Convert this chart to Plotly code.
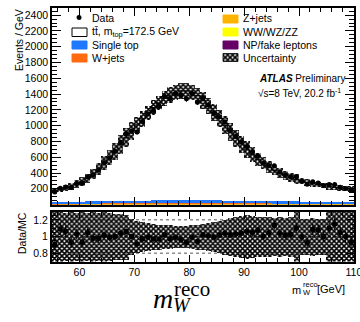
import numpy as np
import plotly.graph_objects as go

# ---- binning: 1 GeV bins from 55 to 110 GeV ----
bin_edges = list(range(55, 111))

# ---- expected events / GeV ----
ttbar = [140, 155, 174, 195, 222, 253, 295, 344, 408, 477, 551, 630, 714, 798, 882, 961,
         1035, 1109, 1178, 1237, 1291, 1335, 1364, 1384, 1384, 1364, 1325, 1266, 1197, 1118,
         1039, 955, 871, 792, 718, 649, 586, 527, 478, 431, 392, 359, 327, 301, 278, 259,
         242, 229, 216, 205, 195, 186, 178, 171, 165]
single_top = [20, 20, 21, 21, 22, 22, 23, 23, 24, 24, 25, 25, 26, 26, 27, 27, 28, 28, 29, 29,
              30, 30, 31, 31, 31, 31, 31, 30, 30, 29, 29, 28, 28, 27, 27, 26, 26, 25, 25, 24,
              24, 23, 23, 25, 24, 23, 22, 21, 21, 20, 20, 19, 18, 17, 16]
w_jets = [8, 8, 8, 9, 9, 9, 10, 10, 10, 11, 11, 11, 12, 12, 12, 13, 13, 13, 13, 14, 14, 14,
          14, 14, 14, 14, 14, 14, 14, 13, 13, 13, 12, 12, 12, 11, 11, 11, 10, 10, 10, 9, 9,
          9, 9, 8, 8, 8, 8, 8, 7, 7, 7, 7, 7]
z_jets = [2, 2, 2, 2, 2, 2, 2, 2, 3, 3, 3, 3, 3, 3, 3, 3, 3, 3, 3, 3, 3, 3, 3, 3, 3, 3, 3,
          3, 3, 3, 3, 3, 3, 3, 3, 3, 3, 3, 3, 3, 2, 2, 2, 2, 2, 2, 2, 2, 2, 2, 2, 2, 2, 2, 2]
diboson = [1] * 55
np_fake = [4, 4, 4, 4, 4, 5, 5, 5, 5, 5, 5, 5, 5, 6, 6, 6, 6, 6, 6, 6, 6, 6, 6, 6, 6, 6, 6,
           6, 6, 6, 6, 6, 6, 6, 6, 6, 6, 6, 6, 6, 5, 5, 5, 5, 5, 5, 5, 5, 5, 5, 5, 5, 5, 5, 5]

# ---- observed events / GeV ----
data = [158, 207, 223, 216, 268, 272, 352, 377, 441, 530, 589, 675, 790, 896, 930, 919,
        1052, 1148, 1193, 1251, 1372, 1348, 1406, 1382, 1339, 1406, 1297, 1346, 1262, 1158,
        1112, 1045, 938, 865, 796, 737, 662, 616, 525, 496, 492, 414, 372, 352, 352, 297,
        259, 288, 273, 241, 253, 253, 221, 203, 182]

# ---- relative systematic uncertainty (half width) ----
unc_ratio = [0.30, 0.30, 0.29, 0.30, 0.29, 0.30, 0.29, 0.30, 0.29, 0.30, 0.29, 0.28, 0.28,
             0.27, 0.22, 0.19, 0.18, 0.17, 0.16, 0.15, 0.14, 0.14, 0.13, 0.13, 0.13, 0.14,
             0.15, 0.16, 0.17, 0.18, 0.19, 0.21, 0.23, 0.24, 0.25, 0.26, 0.25, 0.24, 0.24,
             0.24, 0.23, 0.24, 0.23, 0.24, 0.35, 0.22, 0.22, 0.23, 0.22, 0.22, 0.30, 0.30,
             0.30, 0.30, 0.30]
unc_main = [0.18, 0.18, 0.18, 0.18, 0.18, 0.18, 0.17, 0.17, 0.17, 0.17, 0.16, 0.16, 0.15,
            0.14, 0.12, 0.10, 0.09, 0.08, 0.08, 0.07, 0.07, 0.07, 0.07, 0.07, 0.07, 0.07,
            0.07, 0.08, 0.08, 0.09, 0.10, 0.11, 0.12, 0.13, 0.14, 0.15, 0.15, 0.15, 0.15,
            0.15, 0.15, 0.15, 0.15, 0.15, 0.20, 0.14, 0.14, 0.14, 0.14, 0.14, 0.18, 0.18,
            0.18, 0.18, 0.18]

ratio_ref_lines = [0.8, 1.0, 1.2]

# ---- colours ----
C_STOP = "#1f78ff"
C_WJ = "#ff6a10"
C_ZJ = "#ffb400"
C_VV = "#ffff00"
C_FAKE = "#660066"

W, H = 360, 322
FONT = "Liberation Sans"

# panel geometry in pixels
X_LEFT, X_RIGHT = 52, 354
MAIN_TOP, MAIN_BOT = 8, 204.5
RAT_TOP, RAT_BOT = 211.5, 261.5
X_RANGE = [55, 110.02]
Y_RANGE = [1, 2490]

centers = np.array(bin_edges[:-1]) + 0.5
stack = [("NP/fake leptons", np_fake, C_FAKE), ("WW/WZ/ZZ", diboson, C_VV),
         ("Z+jets", z_jets, C_ZJ), ("W+jets", w_jets, C_WJ), ("Single top", single_top, C_STOP)]

bkg_total = np.zeros(len(centers))
fig = go.Figure()

for name, vals, col in stack:
    v = np.array(vals, dtype=float)
    fig.add_trace(go.Bar(x=centers, y=v, base=bkg_total.copy(), width=1.0,
                         marker=dict(color=col, line=dict(width=0)),
                         xaxis="x", yaxis="y", showlegend=False))
    bkg_total = bkg_total + v

tt = np.array(ttbar, dtype=float)
mc_total = bkg_total + tt
fig.add_trace(go.Bar(x=centers, y=tt, base=bkg_total, width=1.0,
                     marker=dict(color="white", line=dict(width=0)),
                     xaxis="x", yaxis="y", showlegend=False))

# ttbar outline as a step line
step_x = [bin_edges[0]]
step_y = [mc_total[0]]
for i in range(len(centers)):
    step_x += [bin_edges[i], bin_edges[i + 1]]
    step_y += [mc_total[i], mc_total[i]]
fig.add_trace(go.Scatter(x=step_x, y=step_y, mode="lines", line=dict(color="black", width=1),
                         xaxis="x", yaxis="y", showlegend=False))

hatch = dict(shape="x", fgcolor="black", bgcolor="rgba(0,0,0,0)", size=3.5, solidity=0.7,
             fillmode="replace")

# uncertainty band, main panel
um = np.array(unc_main) * mc_total
fig.add_trace(go.Bar(x=centers, y=2 * um, base=mc_total - um, width=1.0,
                     marker=dict(color="rgba(0,0,0,0)", line=dict(width=0), pattern=hatch),
                     xaxis="x", yaxis="y", showlegend=False))

d = np.array(data, dtype=float)
fig.add_trace(go.Scatter(x=centers, y=d, mode="markers",
                         marker=dict(color="black", size=5),
                         error_y=dict(type="data", array=np.sqrt(d), color="black",
                                      thickness=1, width=0),
                         xaxis="x", yaxis="y", showlegend=False))

# ratio panel
ur = np.array(unc_ratio)
fig.add_trace(go.Bar(x=centers, y=2 * ur, base=1 - ur, width=1.0,
                     marker=dict(color="rgba(0,0,0,0)", line=dict(width=0), pattern=hatch),
                     xaxis="x2", yaxis="y2", showlegend=False))
ratio = d / mc_total
fig.add_trace(go.Scatter(x=centers, y=ratio, mode="markers",
                         marker=dict(color="black", size=5.5),
                         error_y=dict(type="data", array=np.sqrt(d) / mc_total, color="black",
                                      thickness=1, width=0),
                         xaxis="x2", yaxis="y2", showlegend=False))


def px(x):
    return x / W


def py(y):
    return 1 - y / H


def main_x(pxl):
    # pixel column -> main-panel x value
    return X_RANGE[0] + (pxl - X_LEFT) * (X_RANGE[1] - X_RANGE[0]) / (X_RIGHT - X_LEFT)


def main_y(pxl):
    # pixel row -> main-panel y value
    return Y_RANGE[0] + (MAIN_BOT - pxl) * (Y_RANGE[1] - Y_RANGE[0]) / (MAIN_BOT - MAIN_TOP)


# hatched legend swatch for the uncertainty entry
ux0, uy0, ux1, uy1 = 223, 53.5, 238, 61.5
fig.add_trace(go.Scatter(x=[main_x(ux0), main_x(ux1), main_x(ux1), main_x(ux0), main_x(ux0)],
                         y=[main_y(uy1), main_y(uy1), main_y(uy0), main_y(uy0), main_y(uy1)],
                         mode="lines", fill="toself", fillcolor="rgba(0,0,0,0)",
                         fillpattern=hatch, line=dict(color="black", width=0.8),
                         xaxis="x", yaxis="y", showlegend=False, hoverinfo="skip"))

xdom = [X_LEFT / W, X_RIGHT / W]
main_dom = [py(MAIN_BOT), py(MAIN_TOP)]
ratio_dom = [py(RAT_BOT), py(RAT_TOP)]

axis_common = dict(showline=True, linecolor="black", mirror="allticks", ticks="inside",
                   tickcolor="black", showgrid=False, zeroline=False, automargin=False,
                   tickfont=dict(family=FONT, size=10.5, color="black"))

fig.update_layout(
    width=W, height=H, margin=dict(l=0, r=0, t=0, b=0),
    paper_bgcolor="white", plot_bgcolor="white", barmode="overlay", bargap=0,
    xaxis=dict(domain=xdom, anchor="y", range=X_RANGE, tickmode="linear", tick0=60, dtick=10,
               showticklabels=False, ticklen=8, linewidth=1.5,
               minor=dict(ticks="inside", dtick=2, ticklen=4, tickcolor="black"), **axis_common),
    yaxis=dict(domain=main_dom, anchor="x", range=Y_RANGE, tickmode="linear", tick0=0,
               dtick=200, ticklen=9, linewidth=1.5,
               minor=dict(ticks="inside", dtick=50, ticklen=5, tickcolor="black"), **axis_common),
    xaxis2=dict(domain=xdom, anchor="y2", range=X_RANGE, tickmode="linear", tick0=60,
                dtick=10, ticklen=7, linewidth=2, ticklabeloverflow="allow",
                minor=dict(ticks="inside", dtick=2, ticklen=4, tickcolor="black"), **axis_common),
    yaxis2=dict(domain=ratio_dom, anchor="x2", range=[0.7, 1.3], tickmode="linear", tick0=0.8,
                dtick=0.2, ticklen=8, linewidth=2,
                minor=dict(ticks="inside", dtick=0.05, ticklen=4, tickcolor="black"), **axis_common),
)

# dotted reference lines in the ratio panel
for yv in ratio_ref_lines:
    fig.add_shape(type="line", xref="x2 domain", yref="y2", x0=0, x1=1, y0=yv, y1=yv,
                  line=dict(color="#555555", width=1, dash="dot"), layer="below")

# legend boxes
boxes = [
    (72, 28, 87, 36.5, "white", "black"),
    (72, 41, 87, 49, C_STOP, C_STOP),
    (72, 54, 87, 62, C_WJ, C_WJ),
    (223, 15, 238, 23, C_ZJ, C_ZJ),
    (223, 28, 238, 36, C_VV, C_VV),
    (223, 41, 238, 49, C_FAKE, C_FAKE),
]
for x0, y0, x1, y1, fc, lc in boxes:
    fig.add_shape(type="rect", xref="paper", yref="paper", x0=px(x0), x1=px(x1),
                  y0=py(y1), y1=py(y0), fillcolor=fc, line=dict(color=lc, width=1))
fig.add_shape(type="circle", xref="paper", yref="paper", x0=px(76.5), x1=px(81.5),
              y0=py(20), y1=py(15), fillcolor="black", line=dict(color="black", width=0))


def text(x, y, s, size=10.5, xanchor="left", family=FONT, angle=0):
    fig.add_annotation(x=px(x), y=py(y), xref="paper", yref="paper", text=s, showarrow=False,
                       xanchor=xanchor, yanchor="middle", textangle=angle,
                       font=dict(family=family, size=size, color="black"))


text(90, 17.5, "Data")
text(90, 32, "tt\u0304, m<sub>top</sub>=172.5 GeV")
text(90, 45.5, "Single top")
text(90, 58, "W+jets")
text(241, 18.5, "Z+jets")
text(241, 32, "WW/WZ/ZZ")
text(241, 45, "NP/fake leptons")
text(241, 57.5, "Uncertainty")
text(257, 79, "<b><i>ATLAS</i></b> Preliminary", size=10)
text(256, 93, "\u221as=8 TeV, 20.2 fb<sup>-1</sup>", size=10)

text(11, 40, "Events / GeV", angle=-90)
text(14, 233, "Data/MC", angle=-90)

# axis title m_W^reco [GeV]
text(290, 289.5, "m", size=11)
text(300.5, 284.5, "reco", size=7.5)
text(300.5, 292.5, "W", size=7.5)
text(315, 288.5, "[GeV]", size=11)

# large caption
SERIF = "Liberation Serif"
text(151, 298, "<i>m</i>", size=28, family=SERIF)
text(172, 289, "reco", size=21, family=SERIF)
text(171, 305, "<i>W</i>", size=20, family=SERIF)

fig.write_html("out.html")
